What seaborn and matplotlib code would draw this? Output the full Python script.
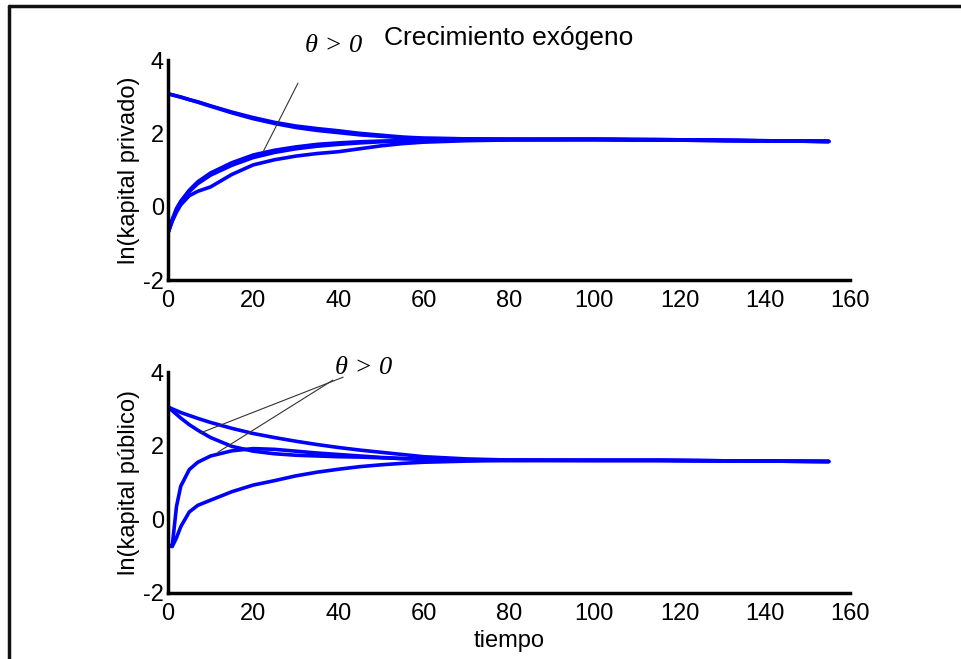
import numpy as np
import pandas as pd
import seaborn as sns
import matplotlib
matplotlib.use("Agg")
import matplotlib.pyplot as plt
from matplotlib.lines import Line2D

# ---------------- data ----------------
tiempo = [0, 1, 2, 3, 5, 7, 10, 15, 20, 25, 30, 35, 40, 45, 50, 55, 60, 70, 80, 100, 115, 155]

# top panel: ln(kapital privado)
priv_dec_1 = [3.08, 3.05, 3.02, 2.99, 2.92, 2.86, 2.75, 2.58, 2.43, 2.30, 2.20, 2.13, 2.07, 2.00, 1.95, 1.90, 1.87, 1.85, 1.84, 1.84, 1.83, 1.78]
priv_dec_2 = [3.08, 3.05, 3.02, 2.99, 2.92, 2.85, 2.74, 2.56, 2.40, 2.27, 2.16, 2.08, 2.02, 1.96, 1.92, 1.88, 1.86, 1.85, 1.84, 1.84, 1.83, 1.78]
priv_ris_1 = [-0.72, -0.35, -0.05, 0.15, 0.45, 0.68, 0.92, 1.20, 1.41, 1.54, 1.63, 1.70, 1.74, 1.77, 1.79, 1.80, 1.81, 1.82, 1.83, 1.83, 1.82, 1.78]
priv_ris_2 = [-0.72, -0.37, -0.08, 0.12, 0.41, 0.63, 0.86, 1.13, 1.34, 1.48, 1.58, 1.65, 1.70, 1.74, 1.77, 1.79, 1.80, 1.82, 1.83, 1.83, 1.82, 1.78]
priv_ris_3 = [-0.72, -0.40, -0.15, 0.05, 0.30, 0.42, 0.54, 0.88, 1.14, 1.28, 1.38, 1.45, 1.50, 1.58, 1.66, 1.72, 1.76, 1.80, 1.82, 1.83, 1.82, 1.78]

# bottom panel: ln(kapital público)
pub_dec_1 = [3.05, 3.00, 2.95, 2.90, 2.82, 2.74, 2.63, 2.47, 2.33, 2.22, 2.12, 2.03, 1.95, 1.88, 1.82, 1.76, 1.70, 1.64, 1.61, 1.60, 1.60, 1.57]
pub_dec_2 = [3.05, 2.95, 2.85, 2.75, 2.57, 2.42, 2.22, 1.98, 1.85, 1.78, 1.74, 1.72, 1.70, 1.69, 1.67, 1.65, 1.63, 1.61, 1.60, 1.60, 1.60, 1.57]
pub_ris_1 = [-0.70, -0.72, 0.35, 0.90, 1.35, 1.55, 1.72, 1.86, 1.92, 1.90, 1.85, 1.80, 1.76, 1.72, 1.68, 1.65, 1.63, 1.61, 1.60, 1.60, 1.60, 1.57]
pub_ris_2 = [-0.70, -0.74, -0.50, -0.20, 0.20, 0.38, 0.52, 0.75, 0.93, 1.05, 1.18, 1.28, 1.36, 1.43, 1.48, 1.52, 1.55, 1.58, 1.60, 1.60, 1.60, 1.57]

x_ticks = [0, 20, 40, 60, 80, 100, 120, 140, 160]
y_ticks = [-2, 0, 2, 4]

title_text = "Crecimiento exógeno"
ylabel_top = "ln(kapital privado)"
ylabel_bottom = "ln(kapital público)"
xlabel_text = "tiempo"
annot_text = "θ > 0"

# ---------------- style ----------------
sns.set_style("white")
plt.rcParams["font.family"] = ["Liberation Sans", "DejaVu Sans"]
plt.rcParams["font.size"] = 17
plt.rcParams["axes.unicode_minus"] = False
plt.rcParams["text.color"] = "black"
plt.rcParams["axes.labelcolor"] = "black"

fig = plt.figure(figsize=(9.62, 6.59), dpi=100)
ax_top = fig.add_axes([0.1746, 0.5751, 0.709, 0.3338])
ax_bot = fig.add_axes([0.1746, 0.1002, 0.709, 0.3353])

top_curves = [priv_dec_1, priv_dec_2, priv_ris_1, priv_ris_2, priv_ris_3]
bot_curves = [pub_dec_1, pub_dec_2, pub_ris_1, pub_ris_2]

for ax, curves in ((ax_top, top_curves), (ax_bot, bot_curves)):
    for c in curves:
        sns.lineplot(x=tiempo, y=c, ax=ax, color="#0000ff", linewidth=2.6,
                     estimator=None, sort=False)
    ax.set_xlim(0, 160)
    ax.set_ylim(-2, 4)
    ax.set_xticks(x_ticks)
    ax.set_yticks(y_ticks)
    for s in ("top", "right"):
        ax.spines[s].set_visible(False)
    for s in ("left", "bottom"):
        ax.spines[s].set_linewidth(2.5)
        ax.spines[s].set_color("black")
    ax.tick_params(direction="in", length=6, width=2.2, labelsize=17,
                   colors="black")
    ax.tick_params(axis="x", pad=7)
    ax.tick_params(axis="y", pad=3)
    ax.patch.set_alpha(0)

ax_top.set_ylabel(ylabel_top, fontsize=17, labelpad=2)
ax_bot.set_ylabel(ylabel_bottom, fontsize=17, labelpad=2)
ax_bot.set_xlabel(xlabel_text, fontsize=17, labelpad=4)
ax_top.set_title(title_text, fontsize=19, pad=11, color="black")

# annotations
serif = ["Liberation Serif", "DejaVu Serif"]
ax_top.text(32.1, 4.38, annot_text, fontsize=19, style="italic", family=serif,
            ha="left", va="center", clip_on=False)
ax_top.plot([30.5, 22.3], [3.37, 1.49], color="#333333", linewidth=0.8, clip_on=False)

ax_bot.text(39.2, 4.11, annot_text, fontsize=19, style="italic", family=serif,
            ha="left", va="center", clip_on=False)
ax_bot.plot([41.1, 7.5], [3.86, 2.34], color="#333333", linewidth=0.8, clip_on=False)
ax_bot.plot([38.7, 11.7], [3.78, 1.82], color="#333333", linewidth=0.8, clip_on=False)

# outer frame (top and left edges visible)
fig.add_artist(Line2D([9 / 962, 1.0], [1 - 6 / 659, 1 - 6 / 659], transform=fig.transFigure,
                      color="#111111", linewidth=2.5))
fig.add_artist(Line2D([9 / 962, 9 / 962], [0.0, 1 - 6 / 659], transform=fig.transFigure,
                      color="#111111", linewidth=2.5))

fig.savefig("out.png", dpi=100)
